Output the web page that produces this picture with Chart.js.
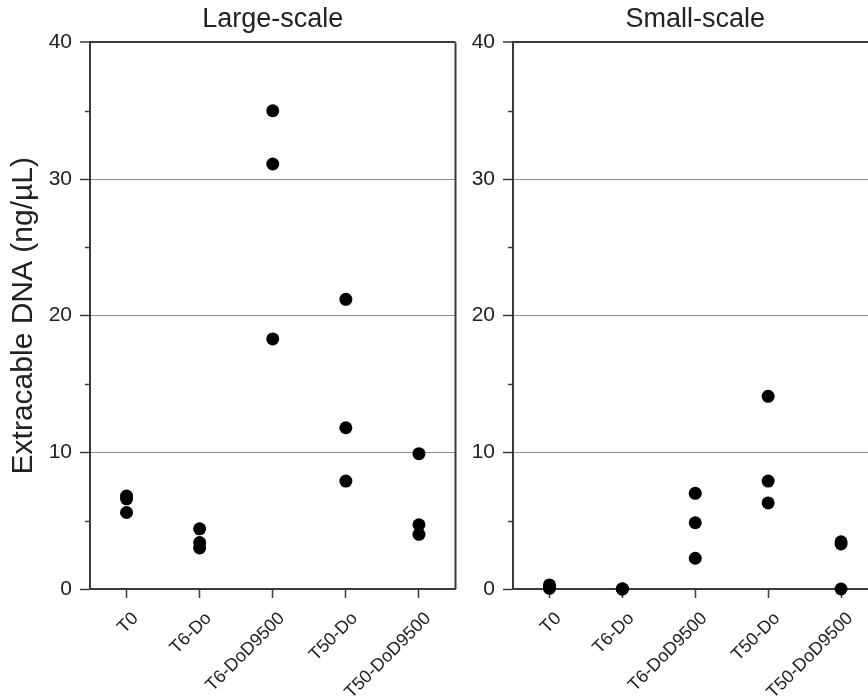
<!DOCTYPE html>
<html>
<head>
<meta charset="utf-8">
<title>Extractable DNA</title>
<script src="https://cdn.jsdelivr.net/npm/chart.js@4/dist/chart.umd.min.js"></script>
<style>
  body { margin: 0; background: #fff; }
  #wrap { position: relative; width: 868px; height: 698px; overflow: hidden; background: #fff; }
  #largeChart { position: absolute; left: 0; top: 0; }
  #smallChart { position: absolute; left: 423px; top: 0; }
</style>
</head>
<body>
<div id="wrap">
  <canvas id="largeChart" width="462" height="698"></canvas>
  <canvas id="smallChart" width="461" height="698"></canvas>
</div>
<script>
// categories on the x axis
const categories = ['T0', 'T6-Do', 'T6-DoD9500', 'T50-Do', 'T50-DoD9500'];

// replicate values (ng/µL), one entry per category
const largeRep1 = [6.8, 4.4, 35.0, 21.2, 9.9];
const largeRep2 = [6.6, 3.4, 31.1, 11.8, 4.7];
const largeRep3 = [5.6, 3.0, 18.3, 7.9, 4.0];

const smallRep1 = [0.3, 0.0, 7.0, 14.1, 3.45];
const smallRep2 = [0.15, 0.0, 4.85, 7.9, 3.3];
const smallRep3 = [0.05, 0.0, 2.25, 6.3, 0.0];

const yTicks = [0, 10, 20, 30, 40];
const yMinorTicks = [5, 15, 25, 35];

const FONT = "'Liberation Sans', Arial, sans-serif";
const TEXT = '#222';
const AXIS = '#3a3a3a';

Chart.defaults.font.family = FONT;
Chart.defaults.color = TEXT;

function toPoints(values) {
  return values.map((v, i) => ({ x: categories[i], y: v }));
}

function makeDatasets(reps) {
  return reps.map(rep => ({
    data: toPoints(rep),
    pointRadius: 6.5,
    pointHoverRadius: 6.5,
    pointBackgroundColor: '#000',
    pointBorderColor: '#000',
    pointBorderWidth: 0,
    showLine: false,
    clip: false
  }));
}

// short minor ticks on the y axis and the right frame line
const framePlugin = {
  id: 'frame',
  afterDraw(chart, args, opts) {
    const { ctx, chartArea, scales } = chart;
    ctx.save();
    ctx.strokeStyle = AXIS;
    ctx.lineWidth = 1.5;
    yMinorTicks.forEach(v => {
      const y = Math.round(scales.y.getPixelForValue(v)) + 0.5;
      ctx.beginPath();
      ctx.moveTo(chartArea.left - 5, y);
      ctx.lineTo(chartArea.left, y);
      ctx.stroke();
    });
    if (opts.rightBorder) {
      ctx.lineWidth = 2;
      ctx.beginPath();
      ctx.moveTo(chartArea.right, chartArea.top);
      ctx.lineTo(chartArea.right, chartArea.bottom);
      ctx.stroke();
    }
    ctx.restore();
  }
};

function makeChart(canvasId, titleText, reps, showYTitle, rightBorder) {
  const ctx = document.getElementById(canvasId).getContext('2d');
  return new Chart(ctx, {
    type: 'scatter',
    data: { datasets: makeDatasets(reps) },
    plugins: [framePlugin],
    options: {
      responsive: false,
      animation: false,
      layout: { padding: 0 },
      plugins: {
        legend: { display: false },
        tooltip: { enabled: false },
        frame: { rightBorder },
        title: {
          display: true,
          fullSize: false,
          text: titleText,
          color: TEXT,
          font: { size: 27, weight: 'normal', family: FONT },
          padding: { top: 3, bottom: 7 }
        }
      },
      scales: {
        x: {
          type: 'category',
          labels: categories,
          offset: true,
          afterFit: scale => { scale.height = 109; },
          grid: {
            display: true,
            offset: false,
            drawOnChartArea: false,
            drawTicks: true,
            tickLength: 9,
            tickColor: AXIS,
            tickWidth: 1.5
          },
          border: { display: true, color: AXIS, width: 2 },
          ticks: {
            autoSkip: false,
            maxRotation: 45,
            minRotation: 45,
            padding: 10,
            labelOffset: 9,
            color: TEXT,
            font: { size: 18, family: FONT }
          }
        },
        y: {
          min: 0,
          max: 40,
          afterFit: scale => { scale.width = 90; },
          afterBuildTicks: scale => {
            scale.ticks = yTicks.map(v => ({ value: v }));
          },
          grid: {
            drawTicks: true,
            tickLength: 10,
            color: c => {
              const v = c.tick.value;
              if (v === 0) return 'rgba(0,0,0,0)';
              if (v === 40) return AXIS;
              return '#8f8f8f';
            },
            lineWidth: c => (c.tick.value === 40 ? 2 : 1),
            tickColor: AXIS,
            tickWidth: 1.5
          },
          border: { display: true, color: AXIS, width: 2 },
          title: {
            display: showYTitle,
            text: 'Extracable DNA (ng/µL)',
            color: TEXT,
            font: { size: 30, family: FONT },
            padding: { top: 6, bottom: 0 }
          },
          ticks: {
            padding: 8,
            color: TEXT,
            font: { size: 21, family: FONT }
          }
        }
      }
    }
  });
}

makeChart('largeChart', 'Large-scale', [largeRep1, largeRep2, largeRep3], true, true);
makeChart('smallChart', 'Small-scale', [smallRep1, smallRep2, smallRep3], false, false);
</script>
</body>
</html>
